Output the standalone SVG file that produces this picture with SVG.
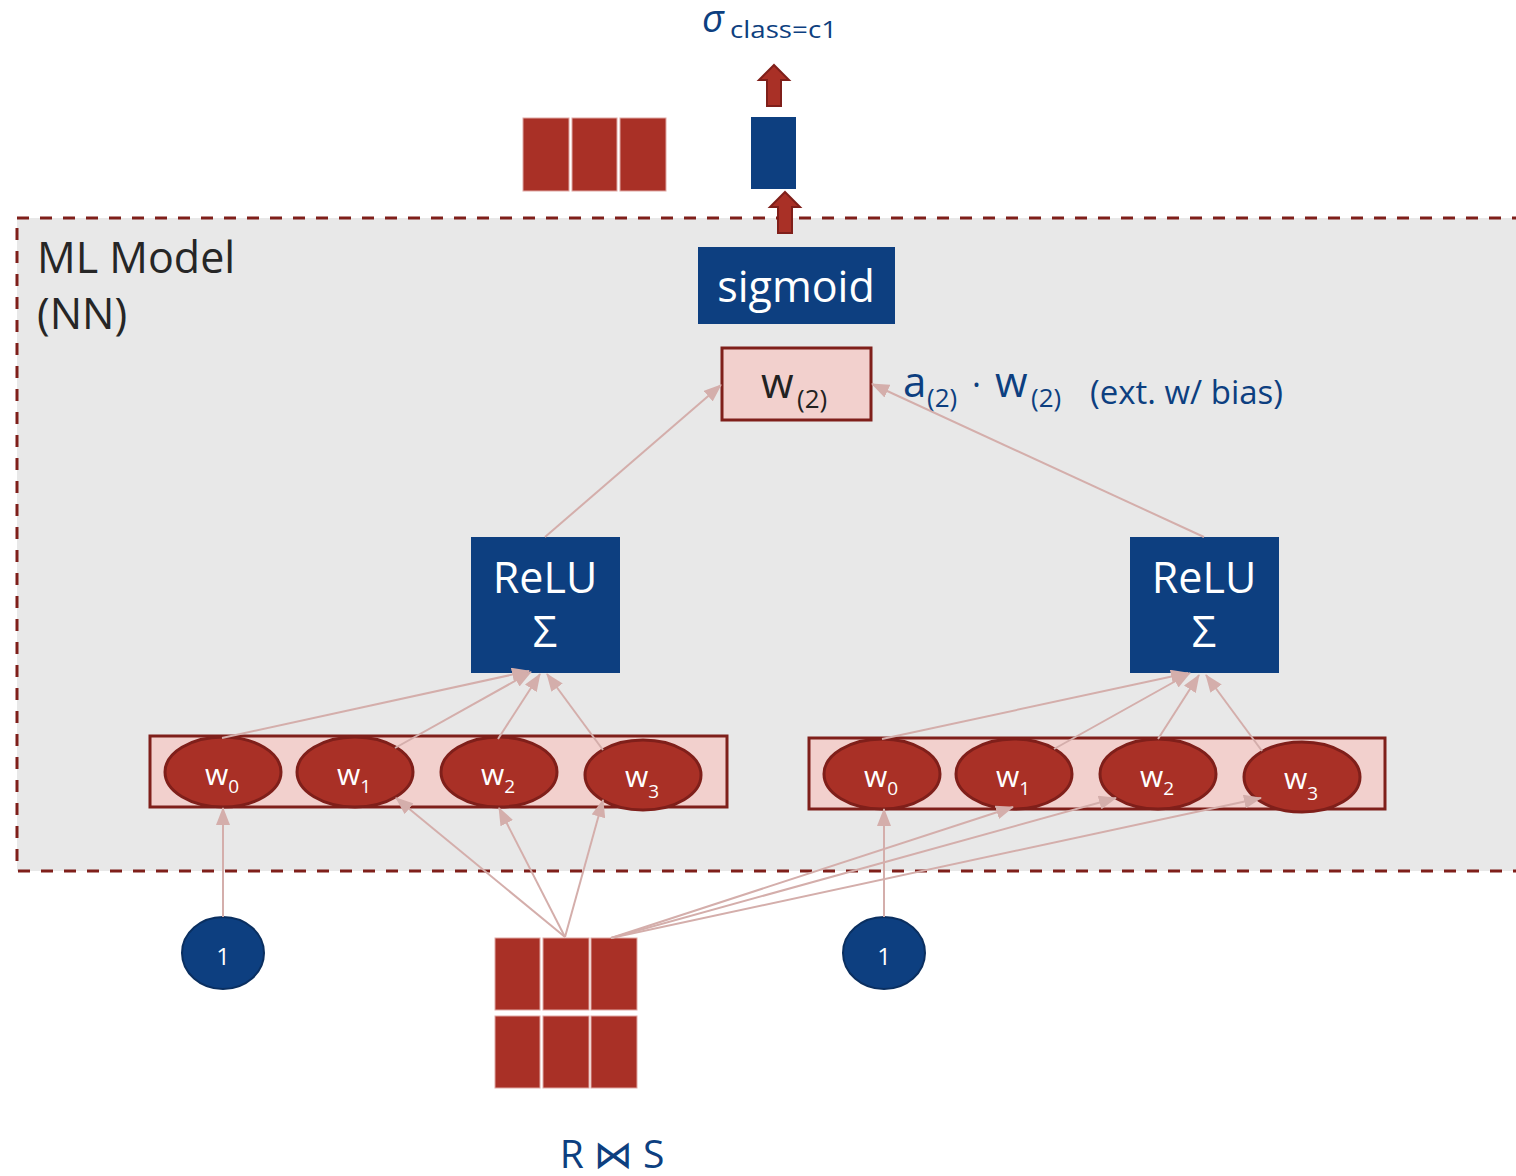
<svg xmlns="http://www.w3.org/2000/svg" width="1516" height="1176" viewBox="0 0 1516 1176">
<defs>
<style>
text{font-family:"Open Sans","Noto Sans","DejaVu Sans",sans-serif}
.blue{fill:#0d3f80}
.red{fill:#a93026}
.cell{fill:#a93026;stroke:#e0a8a4;stroke-width:1}
.row{fill:#f2d0cd;stroke:#7f1f1a;stroke-width:3}
.wn{fill:#a93026;stroke:#7f1f1a;stroke-width:3}
.wt{fill:#ffffff;font-size:30px}
.ws{font-size:19px}
.one{fill:#0d3f80;stroke:#0a2f60;stroke-width:2}
.onet{fill:#ffffff;font-size:24px;text-anchor:middle}
.bt{fill:#ffffff;font-size:43px;text-anchor:middle}
.lab{fill:#0d3f80}
.conn line{stroke:#d4aeab;stroke-width:2;marker-end:url(#ah)}
.blk{fill:#a93026;stroke:#7f1f1a;stroke-width:2}
</style>
<marker id="ah" markerWidth="18" markerHeight="14" refX="17" refY="7" orient="auto" markerUnits="userSpaceOnUse">
<path d="M0,0 L18,7 L0,14 z" fill="#d4aeab"/>
</marker>
</defs>
<rect width="1516" height="1176" fill="#ffffff"/>
<g id="ml-model">
<rect x="17" y="218" width="1520" height="653" fill="#e8e8e8" stroke="#7f1f1a" stroke-width="3" stroke-dasharray="12 11"/>
<text x="37" y="273" font-size="43" fill="#262626">ML Model</text>
<text x="37" y="329" font-size="43" fill="#262626">(NN)</text>
</g>
<g id="output-label">
<text x="702" y="32" class="lab" font-size="38" font-style="italic">σ</text>
<text x="730" y="38" class="lab" font-size="24" textLength="107" lengthAdjust="spacingAndGlyphs">class=c1</text>
</g>
<g id="arrow-top"><polygon class="blk" points="774,65 789,80 781,80 781,106 767,106 767,80 759,80"/></g>
<g id="output-cell"><rect x="751" y="117" width="45" height="72" class="blue"/></g>
<g id="row-vector">
<rect x="523" y="118" width="46" height="73" class="cell"/>
<rect x="572" y="118" width="45" height="73" class="cell"/>
<rect x="620" y="118" width="46" height="73" class="cell"/>
</g>
<g id="arrow-sig"><polygon class="blk" points="785,192 800,207 792,207 792,233 778,233 778,207 770,207"/></g>
<g id="sigmoid">
<rect x="698" y="247" width="197" height="77" class="blue"/>
<text x="796" y="302" class="bt">sigmoid</text>
</g>
<g id="w2">
<rect x="722" y="348" width="149" height="72" fill="#f2d0cd" stroke="#7f1f1a" stroke-width="3"/>
<text y="398" font-size="42" fill="#222222"><tspan x="761">w</tspan><tspan x="797" y="408" font-size="26">(2)</tspan></text>
</g>
<g id="w2-label">
<text y="397" class="lab" font-size="42"><tspan x="903">a</tspan><tspan x="927" y="407" font-size="26">(2)</tspan><tspan x="972" y="397" font-size="34">·</tspan><tspan x="995" y="397">w</tspan><tspan x="1031" y="407" font-size="26">(2)</tspan></text>
<text x="1090" y="404" class="lab" font-size="32" textLength="193" lengthAdjust="spacingAndGlyphs">(ext. w/ bias)</text>
</g>
<g id="relu-left">
<rect x="471" y="537" width="149" height="136" class="blue"/>
<text x="545" y="593" class="bt">ReLU</text>
<text x="545" y="647" class="bt">Σ</text>
</g>
<g id="relu-right">
<rect x="1130" y="537" width="149" height="136" class="blue"/>
<text x="1204" y="593" class="bt">ReLU</text>
<text x="1204" y="647" class="bt">Σ</text>
</g>
<g id="weights-left">
<rect x="150" y="736" width="577" height="71" class="row"/>
<ellipse cx="223" cy="772" rx="58" ry="35" class="wn"/>
<ellipse cx="355" cy="772" rx="58" ry="35" class="wn"/>
<ellipse cx="499" cy="772" rx="58" ry="35" class="wn"/>
<ellipse cx="643" cy="775" rx="58" ry="35" class="wn"/>
<text x="205" y="785" class="wt">w<tspan class="ws" dy="8">0</tspan></text>
<text x="337" y="785" class="wt">w<tspan class="ws" dy="8">1</tspan></text>
<text x="481" y="785" class="wt">w<tspan class="ws" dy="8">2</tspan></text>
<text x="625" y="787" class="wt">w<tspan class="ws" dy="11">3</tspan></text>
</g>
<g id="weights-right">
<rect x="809" y="738" width="576" height="71" class="row"/>
<ellipse cx="882" cy="774" rx="58" ry="35" class="wn"/>
<ellipse cx="1014" cy="774" rx="58" ry="35" class="wn"/>
<ellipse cx="1158" cy="774" rx="58" ry="35" class="wn"/>
<ellipse cx="1302" cy="777" rx="58" ry="35" class="wn"/>
<text x="864" y="787" class="wt">w<tspan class="ws" dy="8">0</tspan></text>
<text x="996" y="787" class="wt">w<tspan class="ws" dy="8">1</tspan></text>
<text x="1140" y="787" class="wt">w<tspan class="ws" dy="8">2</tspan></text>
<text x="1284" y="789" class="wt">w<tspan class="ws" dy="11">3</tspan></text>
</g>
<g id="bias-left">
<ellipse cx="223" cy="953" rx="41" ry="36" class="one"/>
<text x="223" y="965" class="onet">1</text>
</g>
<g id="bias-right">
<ellipse cx="884" cy="953" rx="41" ry="36" class="one"/>
<text x="884" y="965" class="onet">1</text>
</g>
<g id="join-table">
<rect x="495" y="938" width="45" height="72" class="cell"/>
<rect x="543" y="938" width="46" height="72" class="cell"/>
<rect x="591" y="938" width="46" height="72" class="cell"/>
<rect x="495" y="1016" width="45" height="72" class="cell"/>
<rect x="543" y="1016" width="46" height="72" class="cell"/>
<rect x="591" y="1016" width="46" height="72" class="cell"/>
</g>
<g id="join-label">
<text x="612" y="1168" class="lab" font-size="39" text-anchor="middle">R ⋈ S</text>
</g>
<g id="connectors" class="conn">
<line x1="222" y1="738" x2="529" y2="671"/>
<line x1="395" y1="748" x2="531" y2="672"/>
<line x1="498" y1="739" x2="540" y2="674"/>
<line x1="603" y1="750" x2="547" y2="674"/>
<line x1="882" y1="739" x2="1188" y2="673"/>
<line x1="1054" y1="749" x2="1190" y2="673"/>
<line x1="1158" y1="739" x2="1199" y2="675"/>
<line x1="1262" y1="751" x2="1206" y2="675"/>
<line x1="545" y1="537" x2="721" y2="385"/>
<line x1="1204" y1="537" x2="872" y2="384"/>
<line x1="223" y1="917" x2="223" y2="808"/>
<line x1="884" y1="917" x2="884" y2="809"/>
<line x1="565" y1="937" x2="396" y2="798"/>
<line x1="565" y1="937" x2="499" y2="808"/>
<line x1="565" y1="937" x2="603" y2="800"/>
<line x1="611" y1="938" x2="1013" y2="807"/>
<line x1="611" y1="938" x2="1116" y2="798"/>
<line x1="611" y1="938" x2="1261" y2="798"/>
</g>
</svg>
